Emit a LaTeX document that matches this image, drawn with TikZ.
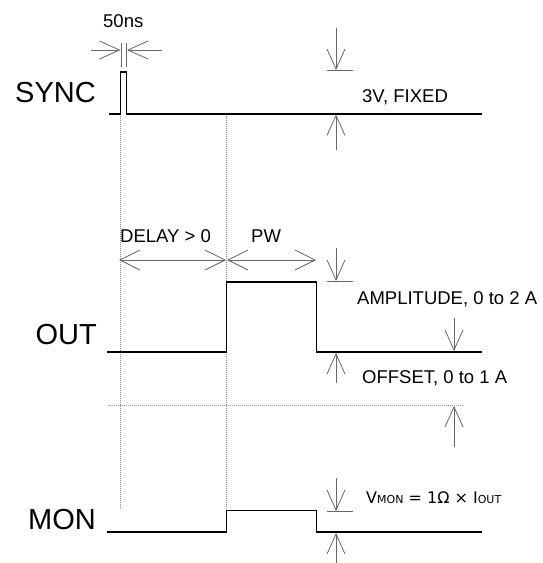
\documentclass[tikz,border=0pt]{standalone}
\usepackage{fontspec}
\setmainfont{Liberation Sans}
\newfontfamily\dejavu{DejaVu Sans}
\usetikzlibrary{arrows.meta}
\begin{document}
\begin{tikzpicture}[x=1pt,y=-1pt,
  wave/.style={line width=1.7pt, line join=miter, line cap=rect},
  dimln/.style={draw=black!60, line width=0.8pt},
  dim/.style={dimln, -{Straight Barb[length=20pt,width=18pt]}},
  ddim/.style={dimln, {Straight Barb[length=20pt,width=20pt]}-{Straight Barb[length=20pt,width=20pt]}},
  guide/.style={draw=black!45, line width=0.6pt, dash pattern=on 1pt off 1pt},
  big/.style={font=\fontsize{29}{29}\selectfont, inner sep=0pt, anchor=base east},
  lbl/.style={font=\fontsize{18.5}{18.5}\selectfont, inner sep=0pt, anchor=base west}]
\useasboundingbox (0,0) rectangle (543,563);

% guides
\draw[guide] (120,114) -- (120,509);
\draw[guide] (226.5,114) -- (226.5,510);
\draw[guide] (108,405.5) -- (463,405.5);

% waveforms
\draw[wave] (110,114) -- (120.5,114) -- (120.5,72) -- (126.5,72) -- (126.5,114) -- (481,114);
\draw[wave] (108,352) -- (226.5,352) -- (226.5,282) -- (316.5,282) -- (316.5,352) -- (481,352);
\draw[wave] (108,532) -- (226.5,532) -- (226.5,510.5) -- (316.5,510.5) -- (316.5,532) -- (481,532);

% labels
\node[big] (sync) at (96,102) {SYNC};
\node[big] (out) at (97,344) {OUT};
\node[big] (mon) at (96,529) {MON};

% 50ns
\draw[dimln] (121,43) -- (121,67);
\draw[dimln] (126.5,43) -- (126.5,67);
\draw[dim] (91,50) -- (120.5,50);
\draw[dim] (162,50) -- (127,50);
\node[lbl] (ns) at (103,27) {50ns};

% SYNC amplitude
\draw[dim] (336,28) -- (336,70);
\draw[dimln] (327,70) -- (353,70);
\draw[dim] (336,150) -- (336,114.5);
\node[lbl] (fixed) at (362,102) {3V, FIXED};

% delay / pw
\draw[ddim] (119,260) -- (226,260);
\draw[ddim] (227,260) -- (316,260);
\node[lbl] (delay) at (120,242) {DELAY > 0};
\node[lbl] (pw) at (251,242) {PW};

% amplitude
\draw[dim] (336,248) -- (336,281);
\draw[dimln] (327,281) -- (353,281);
\draw[dim] (336,383) -- (336,353);
\node[lbl] (ampl) at (357,304) {AMPLITUDE, 0 to 2 A};

% offset
\draw[dim] (454,318) -- (454,351);
\draw[dim] (454,447) -- (454,406);
\node[lbl] (offs) at (362,383) {OFFSET, 0 to 1 A};

% monitor
\draw[dim] (336,478) -- (336,511);
\draw[dimln] (327,511) -- (353,511);
\draw[dim] (336,563) -- (336,533);
\node[inner sep=0pt, anchor=base west, font=\dejavu\fontsize{16}{16}\selectfont] (vmon) at (366,503)
  {V{\fontsize{11}{11}\selectfont MON} = 1Ω × I{\fontsize{11}{11}\selectfont OUT}};
\end{tikzpicture}
\end{document}
